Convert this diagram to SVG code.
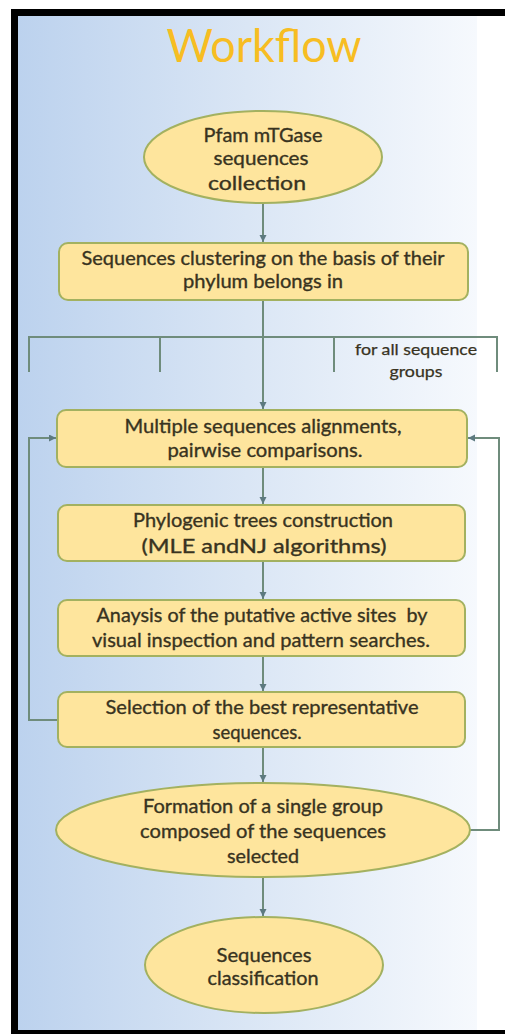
<svg xmlns="http://www.w3.org/2000/svg" width="505" height="1034" viewBox="0 0 505 1034">
<style>
.node{fill:#fee59d;stroke:#a3b160;stroke-width:2}
.t{font-family:Lato,"Open Sans","Liberation Sans",sans-serif;font-size:19.5px;fill:#38331f;stroke:#38331f;stroke-width:0.35;text-anchor:middle;white-space:pre}
.s{font-size:16px;stroke-width:0.25}
.c{fill:none;stroke:#6f8c7c;stroke-width:2}
.title{font-family:Lato,"Open Sans","Liberation Sans",sans-serif;font-size:46px;fill:#f7bd22;text-anchor:middle}
</style>
<defs>
<linearGradient id="bg" x1="0" y1="0" x2="1" y2="0">
<stop offset="0" stop-color="#bcd2ee"/>
<stop offset="0.5" stop-color="#dae6f5"/>
<stop offset="1" stop-color="#f6f9fd"/>
</linearGradient>
<marker id="ah" markerUnits="userSpaceOnUse" markerWidth="8" markerHeight="8" refX="7" refY="3.5" orient="auto">
<path d="M0,0 L7,3.5 L0,7 z" fill="#5d7a80"/>
</marker>
</defs>
<rect x="0" y="0" width="505" height="1034" fill="#ffffff"/>
<rect x="18" y="16" width="459" height="1014" fill="url(#bg)"/>
<rect x="11" y="9" width="494" height="7" fill="#000"/>
<rect x="11" y="9" width="7" height="1025" fill="#000"/>
<rect x="11" y="1030" width="494" height="4" fill="#000"/>
<text class="title" x="264" y="62" textLength="195" lengthAdjust="spacingAndGlyphs">Workflow</text>
<g id="connectors">
<line class="c" x1="263" y1="203" x2="263" y2="242" marker-end="url(#ah)"/>
<line class="c" x1="263" y1="300" x2="263" y2="409" marker-end="url(#ah)"/>
<polyline class="c" points="29,372 29,337 497,337 497,372"/>
<line class="c" x1="160" y1="337" x2="160" y2="372"/>
<line class="c" x1="334" y1="337" x2="334" y2="372"/>
<line class="c" x1="263" y1="467" x2="263" y2="504" marker-end="url(#ah)"/>
<line class="c" x1="263" y1="561" x2="263" y2="599" marker-end="url(#ah)"/>
<line class="c" x1="263" y1="656" x2="263" y2="691" marker-end="url(#ah)"/>
<line class="c" x1="263" y1="747" x2="263" y2="782" marker-end="url(#ah)"/>
<line class="c" x1="263" y1="878" x2="263" y2="916" marker-end="url(#ah)"/>
<polyline class="c" points="58,720 29,720 29,438 56,438" marker-end="url(#ah)"/>
<polyline class="c" points="470,830 499,830 499,438 468,438" marker-end="url(#ah)"/>
</g>
<g id="label-all-groups">
<text class="t s" x="416" y="355" textLength="122" lengthAdjust="spacingAndGlyphs">for all sequence</text>
<text class="t s" x="416" y="377" textLength="53" lengthAdjust="spacingAndGlyphs">groups</text>
</g>
<g id="n1">
<ellipse class="node" cx="263" cy="157" rx="119" ry="46"/>
<text class="t" x="263" y="142" textLength="119" lengthAdjust="spacingAndGlyphs">Pfam mTGase</text>
<text class="t" x="261" y="165" textLength="95" lengthAdjust="spacingAndGlyphs">sequences</text>
<text class="t" x="257" y="190" textLength="98" lengthAdjust="spacingAndGlyphs">collection</text>
</g>
<g id="n2">
<rect class="node" x="59" y="243" width="409" height="57" rx="9"/>
<text class="t" x="263" y="265" textLength="363" lengthAdjust="spacingAndGlyphs">Sequences clustering on the basis of their</text>
<text class="t" x="263" y="288" textLength="160" lengthAdjust="spacingAndGlyphs">phylum belongs in</text>
</g>
<g id="n3">
<rect class="node" x="57" y="410" width="410" height="57" rx="9"/>
<text class="t" x="263" y="433" textLength="277" lengthAdjust="spacingAndGlyphs">Multiple sequences alignments,</text>
<text class="t" x="265" y="457" textLength="195" lengthAdjust="spacingAndGlyphs">pairwise comparisons.</text>
</g>
<g id="n4">
<rect class="node" x="58" y="505" width="407" height="56" rx="9"/>
<text class="t" x="263" y="527" textLength="260" lengthAdjust="spacingAndGlyphs">Phylogenic trees construction</text>
<text class="t" x="264" y="553" textLength="245" lengthAdjust="spacingAndGlyphs">(MLE andNJ algorithms)</text>
</g>
<g id="n5">
<rect class="node" x="58" y="600" width="407" height="56" rx="9"/>
<text class="t" x="262" y="622" textLength="331" lengthAdjust="spacingAndGlyphs">Anaysis of the putative active sites  by</text>
<text class="t" x="261" y="647" textLength="338" lengthAdjust="spacingAndGlyphs">visual inspection and pattern searches.</text>
</g>
<g id="n6">
<rect class="node" x="58" y="692" width="407" height="55" rx="9"/>
<text class="t" x="262" y="714" textLength="313" lengthAdjust="spacingAndGlyphs">Selection of the best representative</text>
<text class="t" x="257" y="739" textLength="89" lengthAdjust="spacingAndGlyphs">sequences.</text>
</g>
<g id="n7">
<ellipse class="node" cx="263" cy="830" rx="207" ry="47"/>
<text class="t" x="263" y="813" textLength="240" lengthAdjust="spacingAndGlyphs">Formation of a single group</text>
<text class="t" x="263" y="838" textLength="246" lengthAdjust="spacingAndGlyphs">composed of the sequences</text>
<text class="t" x="263" y="863" textLength="72" lengthAdjust="spacingAndGlyphs">selected</text>
</g>
<g id="n8">
<ellipse class="node" cx="264" cy="965" rx="119" ry="48"/>
<text class="t" x="264" y="962" textLength="95" lengthAdjust="spacingAndGlyphs">Sequences</text>
<text class="t" x="263" y="985" textLength="111" lengthAdjust="spacingAndGlyphs">classification</text>
</g>
</svg>
